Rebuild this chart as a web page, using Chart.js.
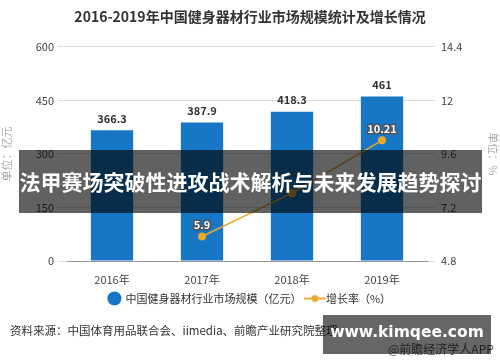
<!DOCTYPE html>
<html>
<head>
<meta charset="utf-8">
<script src="https://cdn.jsdelivr.net/npm/chart.js@4/dist/chart.umd.min.js"></script>
<style>
  body { margin: 0; background: #fff; }
  #wrap { position: relative; width: 500px; height: 362px; overflow: hidden; font-family: "Noto Sans CJK SC", sans-serif; }
  #source { position: absolute; left: 10px; top: 322px; font-size: 11.5px; color: #333; }
  #app { position: absolute; left: 388px; top: 340px; font-size: 12px; color: #555; }
  #banner { position: absolute; left: 19px; top: 150px; width: 463px; height: 63px; background: rgba(0,0,0,0.62);
            color: #fff; font-weight: bold; font-size: 21px; line-height: 63px; text-align: center; white-space: nowrap; }
  #site { position: absolute; left: 323px; top: 315px; width: 168px; height: 39px; background: rgba(0,0,0,0.6);
          color: #fff; font-weight: bold; font-size: 15.5px; font-family: "DejaVu Sans", sans-serif; text-align: center; line-height: 35px; }
</style>
</head>
<body>
<div id="wrap">
  <canvas id="chart" width="500" height="362"></canvas>
  <div id="source">资料来源：中国体育用品联合会、iimedia、前瞻产业研究院整理</div>
  <div id="app">@前瞻经济学人APP</div>
  <div id="banner">法甲赛场突破性进攻战术解析与未来发展趋势探讨</div>
  <div id="site">www.kimqee.com</div>
</div>
<script>
var years = ['2016年', '2017年', '2018年', '2019年'];
var marketSize = [366.3, 387.9, 418.3, 461];
var growthRate = [null, 5.9, 7.84, 10.21];
var growthLabels = ['', '5.9', '', '10.21'];
var leftTicks = [0, 150, 300, 450, 600];
var rightTicks = [4.8, 7.2, 9.6, 12, 14.4];

var barColor = '#1777c4';
var lineColor = '#e8a92e';
var fontFamily = '"Noto Sans CJK SC", sans-serif';

// legend icon for the line series: short line with a dot
var lineIcon = document.createElement('canvas');
lineIcon.width = 22; lineIcon.height = 10;
(function() {
    var c = lineIcon.getContext('2d');
    c.strokeStyle = lineColor; c.lineWidth = 2;
    c.beginPath(); c.moveTo(0, 5); c.lineTo(22, 5); c.stroke();
    c.fillStyle = lineColor;
    c.beginPath(); c.arc(11, 5, 3.5, 0, Math.PI * 2); c.fill();
})();

var valueLabels = {
    id: 'valueLabels',
    afterDatasetsDraw: function(chart) {
        var ctx = chart.ctx;
        ctx.save();
        ctx.textAlign = 'center';
        ctx.textBaseline = 'bottom';
        chart.getDatasetMeta(0).data.forEach(function(bar, i) {
            ctx.font = 'bold 11px ' + fontFamily;
            ctx.fillStyle = '#333';
            ctx.fillText(String(marketSize[i]), bar.x, bar.y - 6);
        });
        chart.getDatasetMeta(1).data.forEach(function(pt, i) {
            if (!growthLabels[i]) return;
            ctx.font = 'bold 11px ' + fontFamily;
            ctx.lineWidth = 3;
            ctx.strokeStyle = '#4a5560';
            ctx.strokeText(growthLabels[i], pt.x, pt.y - 6);
            ctx.fillStyle = '#fff';
            ctx.fillText(growthLabels[i], pt.x, pt.y - 6);
        });
        ctx.restore();
    }
};

var ctx = document.getElementById('chart').getContext('2d');
var chart = new Chart(ctx, {
    data: {
        labels: years,
        datasets: [{
            type: 'bar',
            label: '中国健身器材行业市场规模（亿元）',
            data: marketSize,
            backgroundColor: barColor,
            yAxisID: 'y',
            barPercentage: 0.47,
            categoryPercentage: 1,
            order: 2
        }, {
            type: 'line',
            label: '增长率（%）',
            data: growthRate,
            borderColor: lineColor,
            backgroundColor: lineColor,
            borderWidth: 1.5,
            pointRadius: 4,
            pointBackgroundColor: lineColor,
            pointBorderWidth: 0,
            yAxisID: 'y1',
            order: 1
        }]
    },
    options: {
        responsive: false,
        animation: false,
        layout: { padding: { left: 0, right: 0, top: 0, bottom: 48 } },
        scales: {
            x: {
                grid: { display: false },
                border: { color: '#999' },
                ticks: { color: '#444', font: { size: 11, family: fontFamily }, padding: 4 },
                afterFit: function(s) { s.height = 24; }
            },
            y: {
                position: 'left',
                min: 0, max: 600,
                afterBuildTicks: function(s) { s.ticks = leftTicks.map(function(v) { return { value: v }; }); },
                grid: { color: '#ddd', tickLength: 9 },
                border: { display: false },
                ticks: { color: '#444', font: { size: 11, family: fontFamily }, padding: 4 },
                title: { display: true, text: '单位：亿元', color: '#aaa', font: { size: 11, family: fontFamily }, padding: 0 },
                afterFit: function(s) { s.width = 67; }
            },
            y1: {
                position: 'right',
                min: 4.8, max: 14.4,
                afterBuildTicks: function(s) { s.ticks = rightTicks.map(function(v) { return { value: v }; }); },
                grid: { drawOnChartArea: false, color: '#ddd', tickLength: 8 },
                border: { display: false },
                ticks: { color: '#444', font: { size: 11, family: fontFamily }, padding: 6 },
                title: { display: true, text: '单位：%', color: '#aaa', font: { size: 11, family: fontFamily }, padding: 0 },
                afterFit: function(s) { s.width = 73; }
            }
        },
        plugins: {
            title: {
                display: true,
                text: '2016-2019年中国健身器材行业市场规模统计及增长情况',
                color: '#333',
                font: { size: 14, weight: 'bold', family: fontFamily },
                padding: { top: 8, bottom: 22 }
            },
            legend: {
                position: 'bottom',
                labels: {
                    usePointStyle: true,
                    color: '#333',
                    font: { size: 11, family: fontFamily },
                    boxHeight: 10,
                    padding: 8,
                    generateLabels: function(c) {
                        return [{
                            text: c.data.datasets[0].label, fillStyle: barColor, strokeStyle: barColor,
                            lineWidth: 0, pointStyle: 'circle', datasetIndex: 0, fontColor: '#333'
                        }, {
                            text: c.data.datasets[1].label, fillStyle: lineColor, strokeStyle: lineColor,
                            lineWidth: 0, pointStyle: lineIcon, datasetIndex: 1, fontColor: '#333'
                        }];
                    }
                }
            },
            tooltip: { enabled: false }
        }
    },
    plugins: [valueLabels]
});
</script>
</body>
</html>
